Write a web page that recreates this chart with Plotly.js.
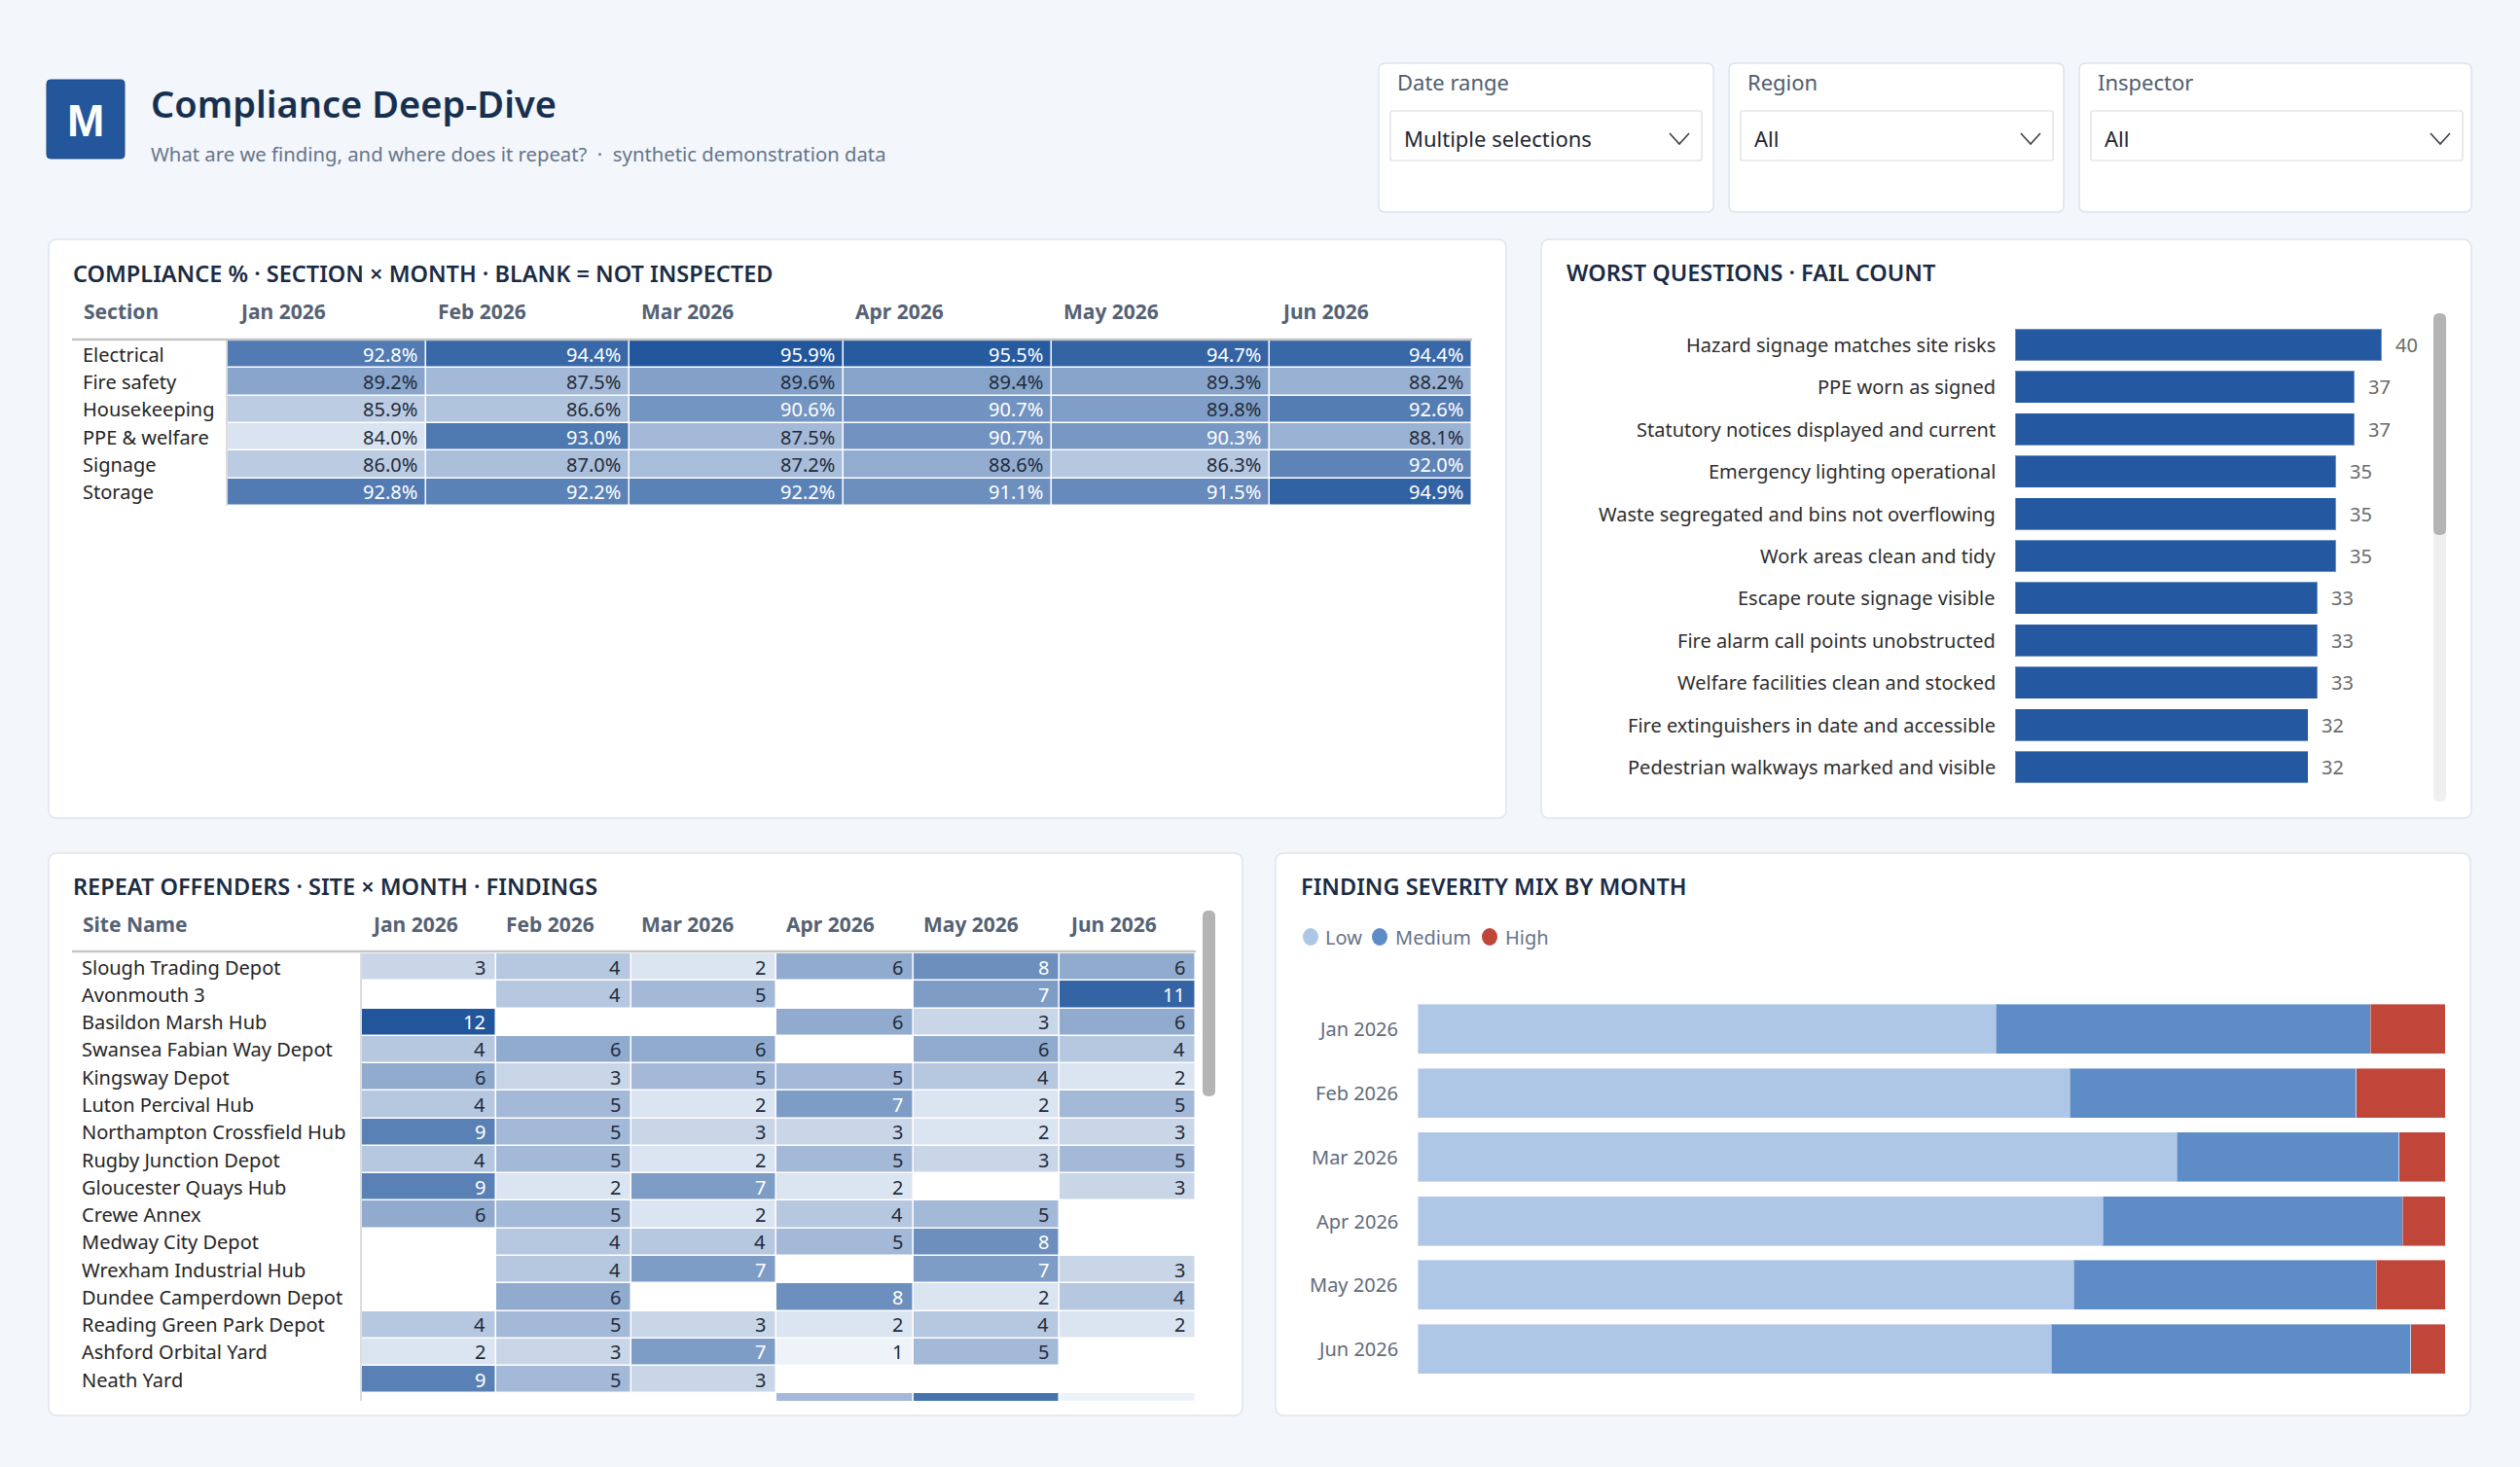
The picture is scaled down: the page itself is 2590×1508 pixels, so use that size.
<!DOCTYPE html>
<html>
<head>
<meta charset="utf-8">
<script src="https://cdn.plot.ly/plotly-3.0.1.min.js"></script>
<style>
html,body{margin:0;padding:0;background:#f3f6fb;overflow:hidden}
#chart{width:2590px;height:1508px}
</style>
</head>
<body>
<div id="chart"></div>
<script>
// ---------------- DATA ----------------
const months = ['Jan 2026','Feb 2026','Mar 2026','Apr 2026','May 2026','Jun 2026'];

const sections = ['Electrical','Fire safety','Housekeeping','PPE & welfare','Signage','Storage'];
const pctElectrical   = [92.8, 94.4, 95.9, 95.5, 94.7, 94.4];
const pctFireSafety   = [89.2, 87.5, 89.6, 89.4, 89.3, 88.2];
const pctHousekeeping = [85.9, 86.6, 90.6, 90.7, 89.8, 92.6];
const pctPpeWelfare   = [84.0, 93.0, 87.5, 90.7, 90.3, 88.1];
const pctSignage      = [86.0, 87.0, 87.2, 88.6, 86.3, 92.0];
const pctStorage      = [92.8, 92.2, 92.2, 91.1, 91.5, 94.9];

const questions = [
  'Hazard signage matches site risks',
  'PPE worn as signed',
  'Statutory notices displayed and current',
  'Emergency lighting operational',
  'Waste segregated and bins not overflowing',
  'Work areas clean and tidy',
  'Escape route signage visible',
  'Fire alarm call points unobstructed',
  'Welfare facilities clean and stocked',
  'Fire extinguishers in date and accessible',
  'Pedestrian walkways marked and visible'
];
const failCounts = [40, 37, 37, 35, 35, 35, 33, 33, 33, 32, 32];

const siteNames = [
  'Slough Trading Depot','Avonmouth 3','Basildon Marsh Hub','Swansea Fabian Way Depot',
  'Kingsway Depot','Luton Percival Hub','Northampton Crossfield Hub','Rugby Junction Depot',
  'Gloucester Quays Hub','Crewe Annex','Medway City Depot','Wrexham Industrial Hub',
  'Dundee Camperdown Depot','Reading Green Park Depot','Ashford Orbital Yard','Neath Yard',
  '(next site)'
];
const siteFindings = [
  [3, 4, 2, 6, 8, 6],
  [null, 4, 5, null, 7, 11],
  [12, null, null, 6, 3, 6],
  [4, 6, 6, null, 6, 4],
  [6, 3, 5, 5, 4, 2],
  [4, 5, 2, 7, 2, 5],
  [9, 5, 3, 3, 2, 3],
  [4, 5, 2, 5, 3, 5],
  [9, 2, 7, 2, null, 3],
  [6, 5, 2, 4, 5, null],
  [null, 4, 4, 5, 8, null],
  [null, 4, 7, null, 7, 3],
  [null, 6, null, 8, 2, 4],
  [4, 5, 3, 2, 4, 2],
  [2, 3, 7, 1, 5, null],
  [9, 5, 3, null, null, null],
  [null, null, null, 5, 10, 1]
];

const severityNames = ['Low','Medium','High'];
const severityLow    = [54, 66, 99, 48, 76, 37];
const severityMedium = [35, 29, 29, 21, 35, 21];
const severityHigh   = [7, 9, 6, 3, 8, 2];

const filterLabels = ['Date range','Region','Inspector'];
const filterValues = ['Multiple selections','All','All'];

// ---------------- HELPERS ----------------
const W = 2590, H = 1508;
const FONT = '"Noto Sans", "Open Sans", sans-serif';
const px = x => x / W;
const py = y => 1 - y / H;
const f = v => v.toFixed(6);

function rr(x0, y0, x1, y1, r) {
  return `M${f(px(x0+r))},${f(py(y0))} L${f(px(x1-r))},${f(py(y0))} Q${f(px(x1))},${f(py(y0))} ${f(px(x1))},${f(py(y0+r))} ` +
         `L${f(px(x1))},${f(py(y1-r))} Q${f(px(x1))},${f(py(y1))} ${f(px(x1-r))},${f(py(y1))} ` +
         `L${f(px(x0+r))},${f(py(y1))} Q${f(px(x0))},${f(py(y1))} ${f(px(x0))},${f(py(y1-r))} ` +
         `L${f(px(x0))},${f(py(y0+r))} Q${f(px(x0))},${f(py(y0))} ${f(px(x0+r))},${f(py(y0))} Z`;
}
function pathShape(path, fill, line, lw, layer) {
  return {type:'path', xref:'paper', yref:'paper', path, fillcolor:fill,
          line:{color:line || 'rgba(0,0,0,0)', width: lw || 0}, layer: layer || 'below'};
}
function lineShape(x0, y0, x1, y1, color, width, layer) {
  return {type:'line', xref:'paper', yref:'paper', x0:px(x0), y0:py(y0), x1:px(x1), y1:py(y1),
          line:{color, width}, layer: layer || 'above'};
}
function txt(x, y, text, size, color, opts) {
  return Object.assign({xref:'paper', yref:'paper', x:px(x), y:py(y), text, showarrow:false,
    xanchor:'left', yanchor:'middle', font:{family:FONT, size, color}}, opts || {});
}

const annotations = [];
const shapes = [];

// ---------------- PAGE CHROME ----------------
shapes.push(pathShape(rr(48, 82, 128, 163, 4), '#24569c', '#1d4a88', 1));
annotations.push(txt(88, 124, '<b>M</b>', 46, '#ffffff', {xanchor:'center', font:{family:'"Liberation Sans", Arial, sans-serif', size:46, color:'#ffffff'}}));
annotations.push(txt(153, 106, 'Compliance Deep-Dive', 38, '#17304f', {font:{family:FONT, size:38, color:'#17304f', weight:600}}));
annotations.push(txt(153, 158, 'What are we finding, and where does it repeat?  ·  synthetic demonstration data', 20.3, '#66758a'));

const cardX = [[1417, 1761], [1777, 2121], [2137, 2540]];
const boxX  = [[1429, 1749], [1789, 2110], [2149, 2531]];
filterLabels.forEach((lab, i) => {
  shapes.push(pathShape(rr(cardX[i][0], 65, cardX[i][1], 218, 7), '#ffffff', '#dde3ec', 1.5));
  shapes.push(pathShape(rr(boxX[i][0], 114, boxX[i][1], 165, 2), '#ffffff', '#dcdcdc', 1.2));
  annotations.push(txt(cardX[i][0] + 17, 84, lab, 22, '#505d70'));
  annotations.push(txt(boxX[i][0] + 12, 142, filterValues[i], 22, '#1f2630'));
  const cx = boxX[i][1] - 23;
  shapes.push({type:'path', xref:'paper', yref:'paper',
    path:`M${f(px(cx-10))},${f(py(137))} L${f(px(cx))},${f(py(148))} L${f(px(cx+10))},${f(py(137))}`,
    line:{color:'#3a3f47', width:1.6}, layer:'above'});
});

const panels = [[50, 246, 1548, 841], [1584, 246, 2540, 841], [50, 877, 1277, 1455], [1311, 877, 2539, 1455]];
panels.forEach(p => shapes.push(pathShape(rr(p[0], p[1], p[2], p[3], 9), '#ffffff', '#e0e6ee', 1.5)));

const titleFont = {family:FONT, size:23.5, color:'#1a2b44', weight:600};
annotations.push(txt(73, 281, 'COMPLIANCE % · SECTION × MONTH · BLANK = NOT INSPECTED', 23.5, '#1a2b44', {font:titleFont}));
annotations.push(txt(1608, 280, 'WORST QUESTIONS · FAIL COUNT', 23.5, '#1a2b44', {font:titleFont}));
annotations.push(txt(73, 911, 'REPEAT OFFENDERS · SITE × MONTH · FINDINGS', 23.5, '#1a2b44', {font:titleFont}));
annotations.push(txt(1335, 911, 'FINDING SEVERITY MIX BY MONTH', 23.5, '#1a2b44', {font:titleFont}));

// ---------------- COLOUR SCALE ----------------
const BLUES = [[0, '#eef2f9'], [1, '#21569c']];
const CELL_DARK = '#1f2b3b';
function cellTextColor(v, zmin, zmax) {
  return ((v - zmin) / (zmax - zmin)) > 0.54 ? '#ffffff' : CELL_DARK;
}
const headerFont = {family:FONT, size:21, color:'#556274', weight:700};

// table column edges (layout geometry, pixel positions of the auto-sized columns)
const edges1 = [234, 438, 647, 867, 1081, 1305, 1513];
const edges3 = [372, 510, 649, 798, 939, 1089, 1229];

// ---------------- PANEL 1: compliance heatmap ----------------
const compliance = [pctElectrical, pctFireSafety, pctHousekeeping, pctPpeWelfare, pctSignage, pctStorage];
const C_ZMIN = 82.7, C_ZMAX = 95.9;
const traces = [];
traces.push({
  type:'heatmap', x:edges1, y:sections, z:compliance, zmin:C_ZMIN, zmax:C_ZMAX,
  colorscale:BLUES, showscale:false, xgap:1.5, ygap:1.5, hoverinfo:'skip',
  xaxis:'x', yaxis:'y'
});
annotations.push(txt(84, 320, 'Section', 21, '#556274', {font:headerFont}));
months.forEach((m, c) => annotations.push({xref:'x', yref:'paper', x:edges1[c], y:py(320), xshift:10,
  text:m, showarrow:false, xanchor:'left', yanchor:'middle', font:headerFont}));
sections.forEach((s, r) => {
  annotations.push({xref:'paper', yref:'y', x:px(83), y:r, text:s, showarrow:false, xanchor:'left', yanchor:'middle',
    font:{family:FONT, size:20, color:'#252525'}});
  compliance[r].forEach((v, c) => {
    if (v == null) return;
    annotations.push({xref:'x', yref:'y', x:edges1[c + 1], y:r, xshift:-7, text:v.toFixed(1) + '%', showarrow:false,
      xanchor:'right', yanchor:'middle', font:{family:FONT, size:20, color:cellTextColor(v, C_ZMIN, C_ZMAX)}});
  });
});
shapes.push(lineShape(74, 349, 1513, 349, '#c6c6c6', 2.5));
shapes.push(lineShape(233, 350, 233, 520, '#d2d2d2', 1.5));

// ---------------- PANEL 2: worst questions ----------------
traces.push({
  type:'bar', orientation:'h', x:failCounts, y:questions, width:0.76,
  marker:{color:'#2458a0', line:{color:'rgba(255,255,255,0.35)', width:1}},
  hoverinfo:'skip', xaxis:'x2', yaxis:'y2'
});
questions.forEach((q, i) => {
  annotations.push({xref:'paper', yref:'y2', x:px(2053), y:i, text:q, showarrow:false, xanchor:'right', yanchor:'middle',
    font:{family:FONT, size:20, color:'#2e2e2e'}});
  annotations.push({xref:'x2', yref:'y2', x:failCounts[i], y:i, xshift:12, text:String(failCounts[i]), showarrow:false,
    xanchor:'left', yanchor:'middle', font:{family:FONT, size:20, color:'#6a6a6a'}});
});
shapes.push(pathShape(rr(2501, 322, 2514, 824, 6), '#efefef', null, 0, 'above'));
shapes.push(pathShape(rr(2501, 322, 2514, 550, 6), '#b4b4b4', null, 0, 'above'));

// ---------------- PANEL 3: repeat offenders heatmap ----------------
const F_ZMIN = 1, F_ZMAX = 12;
const VISIBLE_SITE_ROWS = 16;
traces.push({
  type:'heatmap', x:edges3, y:siteNames, z:siteFindings, zmin:F_ZMIN, zmax:F_ZMAX,
  colorscale:BLUES, showscale:false, xgap:1.5, ygap:1.5, hoverinfo:'skip',
  xaxis:'x3', yaxis:'y3'
});
annotations.push(txt(83, 950, 'Site Name', 21, '#556274', {font:headerFont}));
months.forEach((m, c) => annotations.push({xref:'x3', yref:'paper', x:edges3[c], y:py(950), xshift:8,
  text:m, showarrow:false, xanchor:'left', yanchor:'middle', font:headerFont}));
siteNames.forEach((s, r) => {
  if (r >= VISIBLE_SITE_ROWS) return;
  annotations.push({xref:'paper', yref:'y3', x:px(82), y:r, text:s, showarrow:false, xanchor:'left', yanchor:'middle',
    font:{family:FONT, size:20, color:'#252525'}});
  siteFindings[r].forEach((v, c) => {
    if (v == null) return;
    annotations.push({xref:'x3', yref:'y3', x:edges3[c + 1], y:r, xshift:-9, text:String(v), showarrow:false,
      xanchor:'right', yanchor:'middle', font:{family:FONT, size:20, color:cellTextColor(v, F_ZMIN, F_ZMAX)}});
  });
});
shapes.push(lineShape(74, 978, 1229, 978, '#c6c6c6', 2.5));
shapes.push(lineShape(371, 980, 371, 1440, '#d2d2d2', 1.5));
shapes.push(pathShape(rr(1236, 936, 1249, 1127, 6), '#b4b4b4', null, 0, 'above'));

// ---------------- PANEL 4: severity mix ----------------
const severitySeries = [severityLow, severityMedium, severityHigh];
const severityColors = ['#aec7e6', '#5e8cc7', '#c0463a'];
const monthTotals = months.map((_, i) => severityLow[i] + severityMedium[i] + severityHigh[i]);
severitySeries.forEach((arr, k) => {
  traces.push({
    type:'bar', orientation:'h', name:severityNames[k],
    x:arr.map((v, i) => v / monthTotals[i] * 100), y:months, width:0.776,
    marker:{color:severityColors[k], line:{color:'rgba(255,255,255,0.4)', width:1}},
    hoverinfo:'skip', xaxis:'x4', yaxis:'y4'
  });
});
months.forEach((m, i) => annotations.push({xref:'paper', yref:'y4', x:px(1439), y:i, text:m, showarrow:false,
  xanchor:'right', yanchor:'middle', font:{family:FONT, size:20, color:'#5f6b7c'}}));
const legendPos = [[1347, 1360], [1418, 1432], [1531, 1545]];
severityNames.forEach((n, k) => {
  const cx = legendPos[k][0];
  shapes.push({type:'circle', xref:'paper', yref:'paper', x0:px(cx - 8), x1:px(cx + 8), y0:py(972), y1:py(954),
    fillcolor:severityColors[k], line:{width:0}, layer:'above'});
  annotations.push(txt(legendPos[k][1], 963, n, 20, '#66738a'));
});

// ---------------- LAYOUT ----------------
const hidden = {visible:false, fixedrange:true, showgrid:false, zeroline:false};
const layout = {
  width:W, height:H, margin:{l:0, r:0, t:0, b:0},
  paper_bgcolor:'#f3f6fb', plot_bgcolor:'rgba(0,0,0,0)',
  showlegend:false, barmode:'stack', font:{family:FONT},
  xaxis: Object.assign({}, hidden, {domain:[px(edges1[0]), px(edges1[6])], range:[edges1[0], edges1[6]], anchor:'y'}),
  yaxis: Object.assign({}, hidden, {domain:[py(520), py(350)], type:'category', range:[5.5, -0.5], anchor:'x'}),
  xaxis2: Object.assign({}, hidden, {domain:[px(2071), px(2071 + 42 * 9.42)], range:[0, 42], anchor:'y2'}),
  yaxis2: Object.assign({}, hidden, {domain:[py(810.2), py(332.8)], type:'category', range:[10.5, -0.5], anchor:'x2'}),
  xaxis3: Object.assign({}, hidden, {domain:[px(edges3[0]), px(edges3[6])], range:[edges3[0], edges3[6]], anchor:'y3'}),
  yaxis3: Object.assign({}, hidden, {domain:[py(1440), py(980)], type:'category', range:[15.77, -0.5], anchor:'x3'}),
  xaxis4: Object.assign({}, hidden, {domain:[px(1457), px(2513)], range:[0, 100], anchor:'y4'}),
  yaxis4: Object.assign({}, hidden, {domain:[py(1419.4), py(1024.9)], type:'category', range:[5.5, -0.5], anchor:'x4'}),
  shapes, annotations
};

Plotly.newPlot('chart', traces, layout, {staticPlot:true, displayModeBar:false});
</script>
</body>
</html>
